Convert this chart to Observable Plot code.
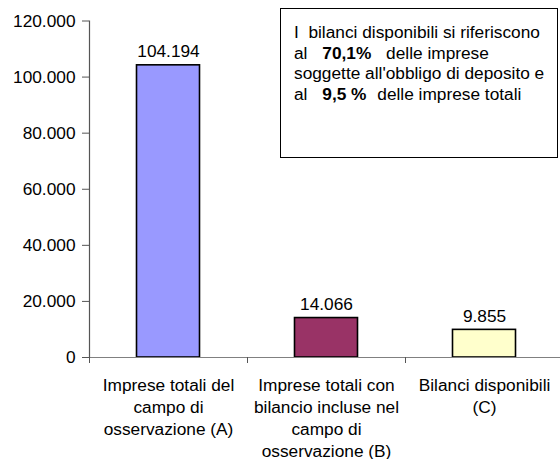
<!DOCTYPE html>
<html>
<head>
<meta charset="utf-8">
<script src="https://cdn.jsdelivr.net/npm/d3@7"></script>
<script src="https://cdn.jsdelivr.net/npm/@observablehq/plot@0.6"></script>
<style>
  html, body { margin: 0; padding: 0; background: #fff; }
  #wrap { position: relative; width: 560px; height: 459px; font-family: "Liberation Sans", Arial, sans-serif; }
  #note {
    position: absolute; left: 280px; top: 8px; width: 278px; height: 150px;
    border: 1.5px solid #000; background: #fff; box-sizing: border-box;
    font-size: 17.3px; line-height: 20.7px; color: #000;
    padding: 13px 0 0 13px;
  }
  #note div { white-space: nowrap; }
  #note b { font-weight: bold; }
</style>
</head>
<body>
<div id="wrap"></div>
<script>
const categories = ["A", "B", "C"];
const values = [104194, 14066, 9855];
const categoryLabels = [
  "Imprese totali del\ncampo di\nosservazione (A)",
  "Imprese totali con\nbilancio incluse nel\ncampo di\nosservazione (B)",
  "Bilanci disponibili\n(C)"
];
const barColors = ["#9999FF", "#993366", "#FFFFCC"];
const yTicks = [0, 20000, 40000, 60000, 80000, 100000, 120000];
const noteLines = [
  "I&nbsp; bilanci disponibili si riferiscono",
  "al <b style=\"margin:0 10px 0 10px\">70,1%</b> delle imprese",
  "soggette all'obbligo di deposito e",
  "al <b style=\"margin:0 6px 0 10px\">9,5 %</b> delle imprese totali"
];

const it = d3.formatLocale({decimal: ",", thousands: ".", grouping: [3], currency: ["€", ""]});
const fmt = it.format(",d");

const data = categories.map((c, i) => ({cat: c, value: values[i], label: categoryLabels[i]}));

const W = 560, H = 459, mL = 89, mT = 20.5, mB = 102;
const bandW = (563 - mL) / categories.length;
const FS = 17.3;

const chart = Plot.plot({
  width: W,
  height: H,
  marginLeft: mL,
  marginRight: 0,
  marginTop: mT,
  marginBottom: mB,
  style: {fontFamily: "'Liberation Sans', Arial, sans-serif", fontSize: FS + "px", background: "#fff", color: "#000", overflow: "visible"},
  x: {domain: categories, range: [mL, 563], padding: 0},
  y: {domain: [0, 120000]},
  color: {domain: categories, range: barColors},
  marks: [
    Plot.barY(data, {x: "cat", y: "value", fill: "cat", stroke: "#000", strokeWidth: 1.6, insetLeft: 47.5, insetRight: 47.5}),
    Plot.ruleY([0], {stroke: "#808080", strokeWidth: 1.2}),
    Plot.frame({anchor: "left", stroke: "#555", strokeWidth: 1.2}),
    Plot.axisY({ticks: yTicks, tickFormat: fmt, tickSize: 7, tickPadding: 7, stroke: "#555", label: null, fontSize: FS}),
    Plot.axisX({tickSize: 6, tickFormat: () => "", dx: -bandW / 2, stroke: "#555", label: null}),
    Plot.text(data, {x: "cat", y: "value", text: d => fmt(d.value), lineAnchor: "bottom", dy: -8, fontSize: FS, fill: "#000"}),
    Plot.text(data, {x: "cat", y: () => 0, text: "label", lineAnchor: "top", dy: 18, lineHeight: 1.27, fontSize: FS, fill: "#000"})
  ]
});

const wrap = document.getElementById("wrap");
wrap.appendChild(chart);
const note = document.createElement("div");
note.id = "note";
note.innerHTML = noteLines.map(l => "<div>" + l + "</div>").join("");
wrap.appendChild(note);
</script>
</body>
</html>
